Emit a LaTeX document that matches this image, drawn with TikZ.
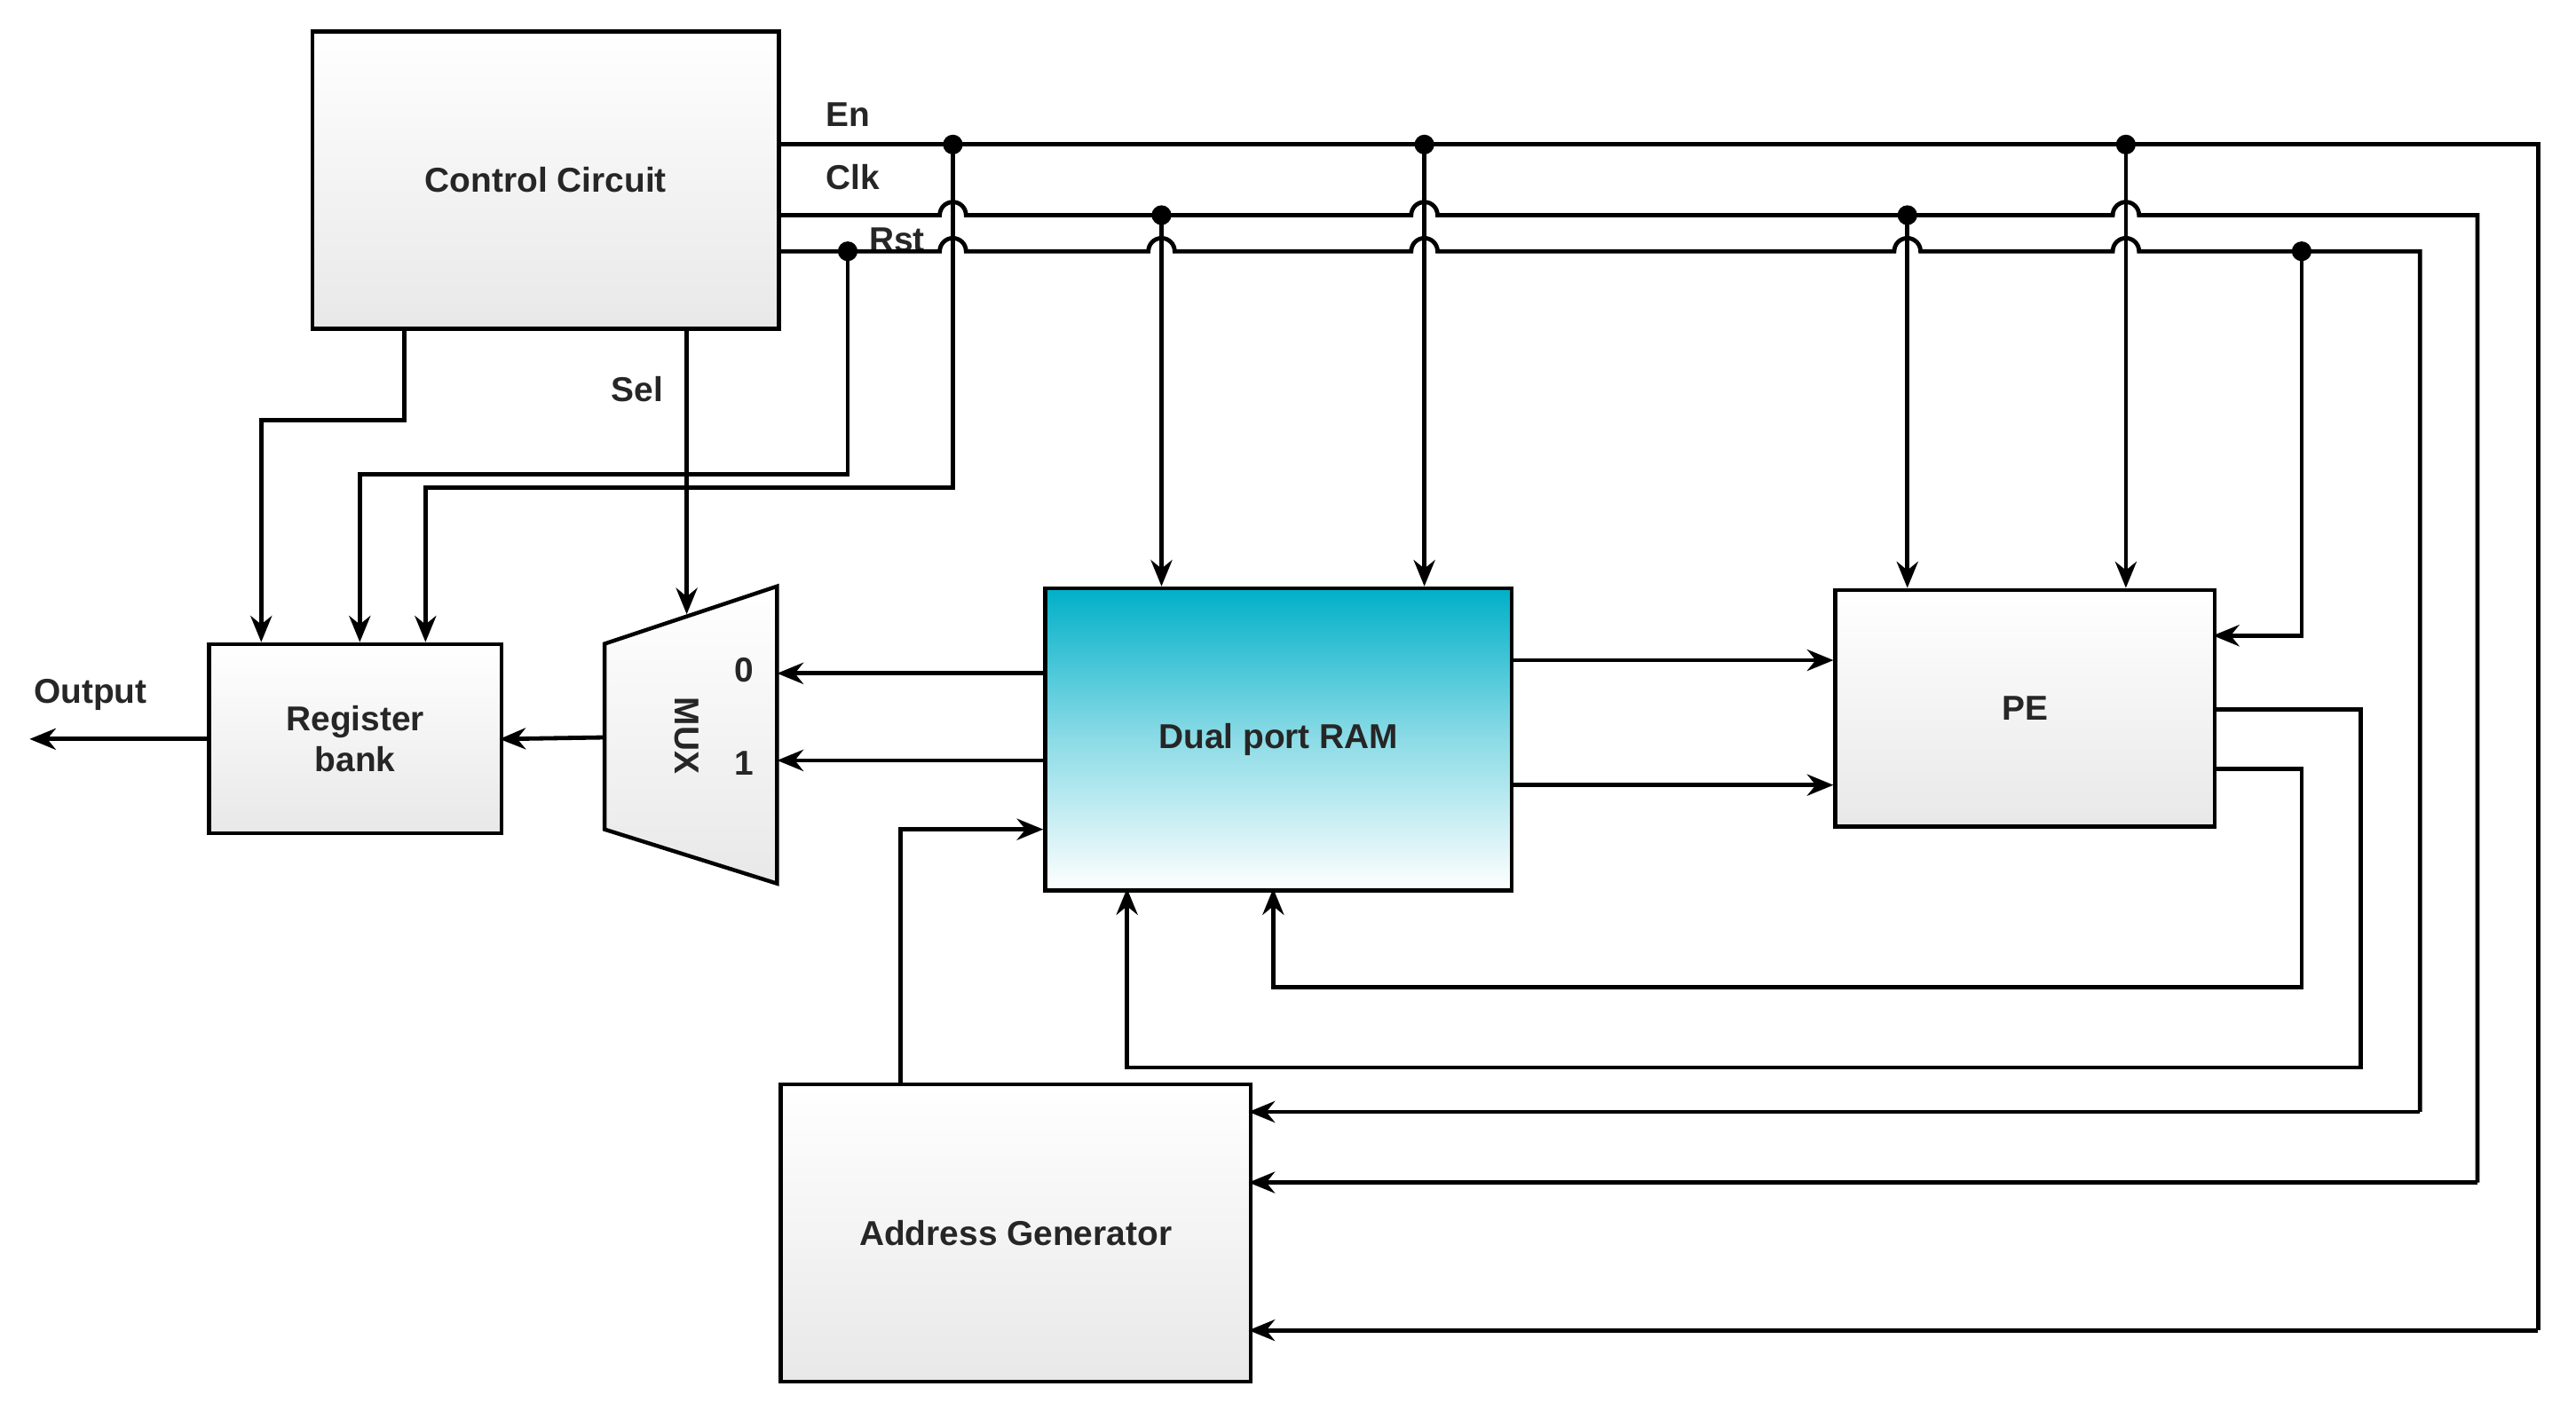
\documentclass[tikz,border=0pt]{standalone}
\usepackage{fontspec}
\setmainfont{Liberation Sans}
\usetikzlibrary{arrows.meta}
\definecolor{teal1}{RGB}{0,176,200}
\begin{document}
\begin{tikzpicture}[x=1pt,y=-1pt,
  box/.style={draw,line width=2.4pt,top color=white,bottom color=gray!18,minimum width=0,inner sep=0},
  txt/.style={font=\fontsize{21}{25}\selectfont\bfseries,text=black!85},
  wire/.style={line width=2.6pt,-{Stealth[length=16pt,width=13pt]}},
  ln/.style={line width=2.6pt},
  dot/.style={circle,fill=black,inner sep=0,minimum size=12pt}]
\useasboundingbox (0,0) rectangle (1568,863);
% boxes
\node[box,minimum width=284pt,minimum height=181pt,anchor=north west] (cc) at (189,18) {};
\node[txt] at (cc.center) {Control Circuit};
\node[box,minimum width=178pt,minimum height=115pt,anchor=north west] (rb) at (126,391) {};
\node[txt,align=center] at (rb.center) {Register\\bank};
\node[draw,line width=2.4pt,top color=teal1,bottom color=white,middle color=teal1!45,minimum width=284pt,minimum height=184pt,anchor=north west] (ram) at (635,357) {};
\node[txt] at (ram.center) {Dual port RAM};
\node[box,minimum width=231pt,minimum height=144pt,anchor=north west] (pe) at (1116,358) {};
\node[txt] at (pe.center) {PE};
\node[box,minimum width=286pt,minimum height=181pt,anchor=north west] (ag) at (474,659) {};
\node[txt] at (ag.center) {Address Generator};
% MUX
\draw[line width=2.4pt,top color=white,bottom color=gray!18] (368,392) -- (473,357) -- (473,538) -- (368,505) -- cycle;
\coordinate (muxl) at (368,449);
\coordinate (muxt) at (418,374);
\node[txt,rotate=-90] (mx) at (418,448) {MUX};
\node[txt] at (453,408) {0};
\node[txt] at (453,465) {1};
% labels
\node[txt] at (516,70) {En};
\node[txt] at (519,108) {Clk};
\node[txt] at (546,146) {Rst};
\node[txt] at (388,237) {Sel};
\node[txt] at (55,423) {Output};
% buses with hops
\def\hop#1#2{-- (#1-8,#2) arc[start angle=180,end angle=0,radius=8pt] }
\draw[ln] (473,88) -- (1545,88) -- (1545,810);
\draw[wire] (1545,810) -- (760,810);
\draw[ln] (473,131) \hop{580}{131}\hop{867}{131}\hop{1294}{131} -- (1508,131) -- (1508,720);
\draw[wire] (1508,720) -- (760,720);
\draw[ln] (473,153) \hop{580}{153}\hop{707}{153}\hop{867}{153}\hop{1161}{153}\hop{1294}{153} -- (1473,153) -- (1473,677);
\draw[wire] (1473,677) -- (760,677);
% dots
\foreach \x in {580,867,1294} \node[dot] at (\x,88) {};
\foreach \x in {707,1161} \node[dot] at (\x,131) {};
\foreach \x in {516,1401} \node[dot] at (\x,153) {};
% drops
\draw[wire] (867,88) -- (867,357);
\draw[wire] (1294,88) -- (1294,358);
\draw[wire] (707,131) -- (707,357);
\draw[wire] (1161,131) -- (1161,358);
\draw[wire] (1401,153) -- (1401,387) -- (1347,387);
\draw[wire] (580,88) -- (580,297) -- (259,297) -- (259,391);
\draw[wire] (516,153) -- (516,289) -- (219,289) -- (219,391);
\draw[wire] (246,199) -- (246,256) -- (159,256) -- (159,391);
\draw[wire] (418,199) -- (muxt);
% data
\draw[wire] (muxl) -- (304,450);
\draw[wire] (126,450) -- (18,450);
\draw[wire] (635,410) -- (473,410);
\draw[wire] (635,463) -- (473,463);
\draw[wire] (919,402) -- (1116,402);
\draw[wire] (919,478) -- (1116,478);
\draw[wire] (1347,432) -- (1437,432) -- (1437,650) -- (686,650) -- (686,541);
\draw[wire] (1347,468) -- (1401,468) -- (1401,601) -- (775,601) -- (775,541);
\draw[wire] (548,659) -- (548,505) -- (635,505);
\end{tikzpicture}
\end{document}
